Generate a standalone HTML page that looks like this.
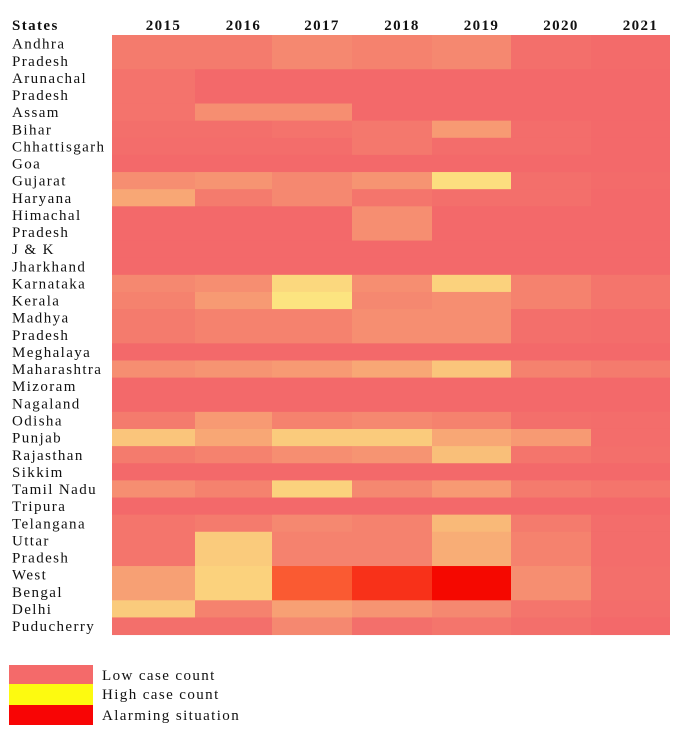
<!DOCTYPE html>
<html><head><meta charset="utf-8">
<style>
html,body{margin:0;padding:0;background:#fff;}
svg text{font-family:"Liberation Serif",serif;fill:#111;letter-spacing:1.4px;}
</style></head>
<body>
<svg id="chart" width="681" height="745" viewBox="0 0 681 745" xmlns="http://www.w3.org/2000/svg"></svg>
<script>
const years = ["2015","2016","2017","2018","2019","2020","2021"];
const states = [["Andhra","Pradesh"],["Arunachal","Pradesh"],["Assam"],["Bihar"],["Chhattisgarh"],["Goa"],["Gujarat"],["Haryana"],["Himachal","Pradesh"],["J & K"],["Jharkhand"],["Karnataka"],["Kerala"],["Madhya","Pradesh"],["Meghalaya"],["Maharashtra"],["Mizoram"],["Nagaland"],["Odisha"],["Punjab"],["Rajasthan"],["Sikkim"],["Tamil Nadu"],["Tripura"],["Telangana"],["Uttar","Pradesh"],["West","Bengal"],["Delhi"],["Puducherry"]];
const values = [
[0.15,0.15,0.25,0.2,0.25,0.05,0.02],
[0.08,0,0,0,0,0,0],
[0.08,0.3,0.3,0,0,0,0],
[0.05,0.05,0.08,0.12,0.4,0.03,0],
[0.03,0.03,0.03,0.12,0.03,0.03,0],
[0,0,0,0,0,0,0],
[0.3,0.35,0.25,0.35,0.95,0.05,0.02],
[0.5,0.15,0.25,0.1,0.05,0.05,0],
[0,0,0,0.3,0,0,0],
[0,0,0,0,0,0,0],
[0,0,0,0,0,0,0],
[0.25,0.3,0.9,0.3,0.85,0.2,0.1],
[0.2,0.4,1.0,0.25,0.3,0.2,0.1],
[0.15,0.2,0.2,0.3,0.3,0.05,0.03],
[0,0,0,0,0,0,0],
[0.3,0.35,0.4,0.5,0.75,0.2,0.15],
[0,0,0,0,0,0,0],
[0,0,0,0,0,0,0],
[0.15,0.4,0.2,0.25,0.2,0.05,0.03],
[0.75,0.5,0.8,0.8,0.5,0.4,0.03],
[0.15,0.2,0.3,0.35,0.7,0.1,0.05],
[0,0,0,0,0,0,0],
[0.3,0.2,0.85,0.25,0.4,0.15,0.1],
[0,0,0,0,0,0,0],
[0.1,0.15,0.25,0.2,0.65,0.15,0.03],
[0.1,0.8,0.2,0.2,0.55,0.2,0.03],
[0.45,0.85,1.4,1.7,2.0,0.3,0.05],
[0.8,0.2,0.45,0.35,0.25,0.1,0.03],
[0.05,0.05,0.25,0.05,0.1,0.05,0]
];
const legendLabels = ["Low case count","High case count","Alarming situation"];
const legendColors = ["#f46a6a","#fdfa10","#f80505"];

const NS="http://www.w3.org/2000/svg";
const svg=document.getElementById('chart');
const colEdges=[112,195,272,352,432,511,591,670];
const gridTop=35, lineH=17.13;
function xPos(i){return colEdges[i];}
function xW(i){return colEdges[i+1]-colEdges[i];}
function lerp(a,b,t){return a.map((v,k)=>Math.round(v+(b[k]-v)*t));}
function color(v){
  const low=[243,105,106], high=[252,228,128], alarm=[245,8,0], orange=[250,90,50];
  let c;
  if(v<=1) c=lerp(low,high,v);
  else if(v<=1.4) c=lerp(high,orange,(v-1)/0.4);
  else c=lerp(orange,alarm,Math.min(1,(v-1.4)/0.6));
  return `rgb(${c[0]},${c[1]},${c[2]})`;
}
function mk(tag,attrs){const e=document.createElementNS(NS,tag);for(const k in attrs)e.setAttribute(k,attrs[k]);svg.appendChild(e);return e;}

let t=mk('text',{x:12,y:30,'font-size':15,'font-weight':'bold'});


t.textContent="States";
years.forEach((y,i)=>{
  const e=mk('text',{x:xPos(i)+xW(i)/2+10,y:30,'font-size':15,'font-weight':'bold','text-anchor':'middle'});
  
  
  e.textContent=y;
});
let line=0;
states.forEach((s,r)=>{
  const y0=gridTop+line*lineH, h=s.length*lineH;
  values[r].forEach((v,c)=>{
    const rc=mk('rect',{x:xPos(c),y:y0.toFixed(2),width:xW(c),height:(h+0.5).toFixed(2),fill:color(v)});
    
    
  });
  s.forEach((w,k)=>{
    const e=mk('text',{x:12,y:(y0+(k+1)*lineH-3.5).toFixed(2),'font-size':15});
    
    
    e.textContent=w;
  });
  line+=s.length;
});
const legY=[665,684,705,725];
legendLabels.forEach((l,i)=>{
  const r=mk('rect',{x:9,y:legY[i],width:84,height:legY[i+1]-legY[i],fill:legendColors[i]});
  
  
  const e=mk('text',{x:102,y:legY[i]+15,'font-size':15});
  
  
  e.textContent=l;
});
</script>
</body></html>
